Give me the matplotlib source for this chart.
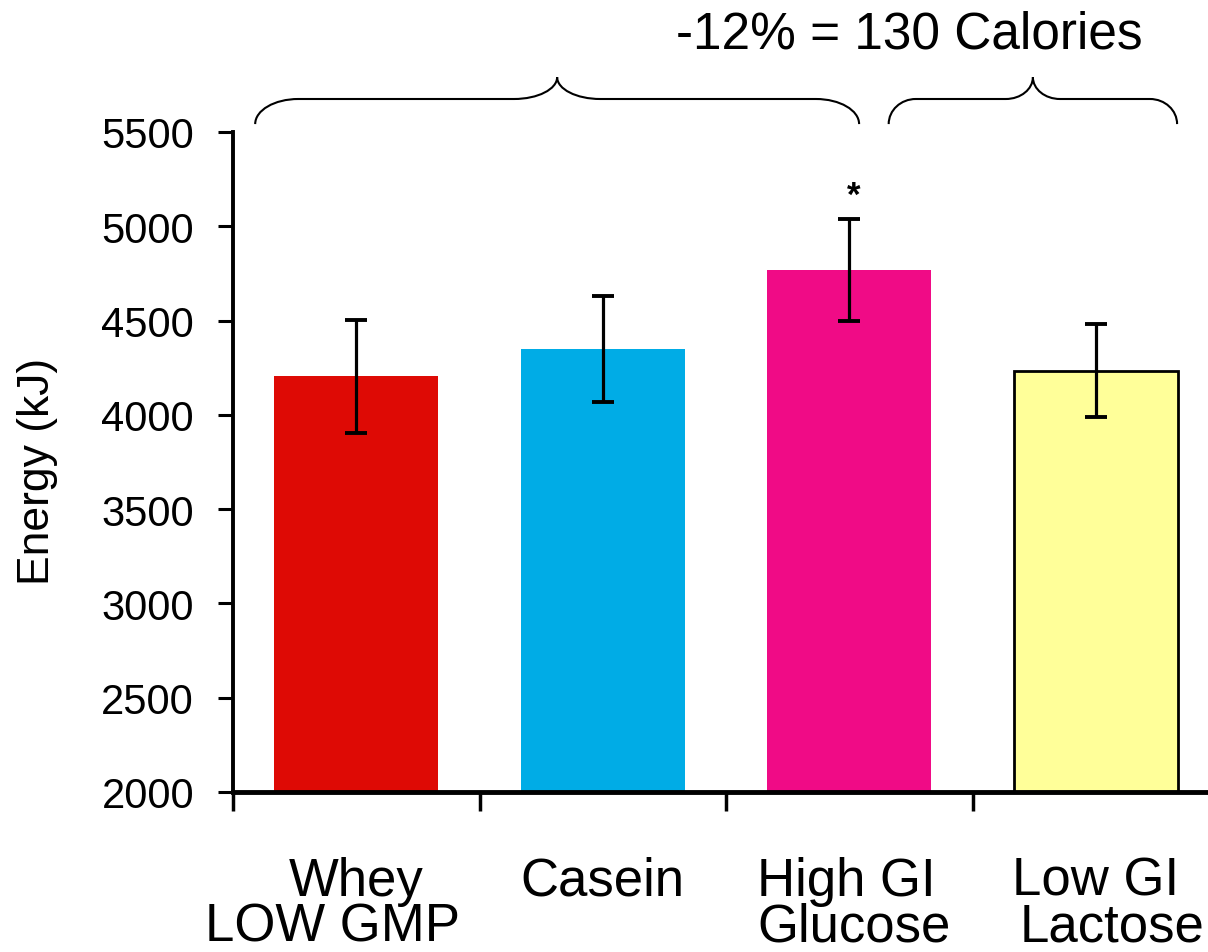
import matplotlib
matplotlib.use("Agg")
import matplotlib.pyplot as plt
from matplotlib.path import Path
from matplotlib.patches import PathPatch

plt.rcParams['font.family'] = ['Liberation Sans', 'DejaVu Sans']

# Data
names_top = ["Whey", "Casein", "High GI", "Low GI"]
names_bottom = ["LOW GMP", "", "Glucose", "Lactose"]
energy_kj = [4205, 4350, 4770, 4235]
sem_kj = [300, 280, 270, 245]
bar_colors = ["#DE0A05", "#00ACE6", "#F00B86", "#FFFF99"]
edge_colors = ["none", "none", "none", "black"]
y_ticks = [2000, 2500, 3000, 3500, 4000, 4500, 5000, 5500]

W, H = 1208, 953
fig = plt.figure(figsize=(W / 100, H / 100), dpi=100)
ax = fig.add_axes([233 / W, (H - 793) / H, (1219 - 233) / W, 660 / H])

x = list(range(len(energy_kj)))
ax.bar(x, energy_kj, width=0.665, color=bar_colors, edgecolor=edge_colors,
       linewidth=2.0, zorder=2)
ax.errorbar(x, energy_kj, yerr=sem_kj, fmt="none", ecolor="black",
            elinewidth=2.3, capsize=7.6, capthick=2.8, zorder=3)

ax.set_xlim(-0.5, 3.5)
ax.set_ylim(2000, 5500)
ax.set_yticks(y_ticks)
ax.set_yticklabels([str(v) for v in y_ticks], fontsize=30)
ax.set_xticks([-0.5, 0.5, 1.5, 2.5, 3.5])
ax.set_xticklabels([])

for side in ("top", "right"):
    ax.spines[side].set_visible(False)
ax.spines["left"].set_linewidth(2.8)
ax.spines["bottom"].set_linewidth(3.5)
ax.tick_params(axis="y", direction="out", length=11, width=2.2, pad=17)
ax.tick_params(axis="x", direction="out", length=14, width=2.5)

# Two-line category labels
line1_offsets = [0.0, 0.0, -0.01, 0.0]
line2_offsets = [-0.095, 0.0, 0.02, 0.065]
for i, (t, b) in enumerate(zip(names_top, names_bottom)):
    ax.text(i + line1_offsets[i], -(896 - 793) / 660, t,
            transform=ax.get_xaxis_transform(),
            ha="center", va="baseline", fontsize=38, clip_on=False)
    if b:
        ax.text(i + line2_offsets[i], -(942 - 793) / 660, b,
                transform=ax.get_xaxis_transform(),
                ha="center", va="baseline", fontsize=38, clip_on=False)

# Significance marker above the High GI bar
ax.text(2.02, 5113, "*", ha="center", va="baseline", fontsize=25,
        fontweight="bold", clip_on=False)


def brace(ax, x0, x1, y_end, y_mid, y_tip, r):
    k = 0.5523
    xm = (x0 + x1) / 2
    verts = [
        (x0, y_end),
        (x0, y_end + k * (y_mid - y_end)), (x0 + r - k * r, y_mid), (x0 + r, y_mid),
        (xm - r, y_mid),
        (xm - r + k * r, y_mid), (xm, y_tip - k * (y_tip - y_mid)), (xm, y_tip),
        (xm, y_tip - k * (y_tip - y_mid)), (xm + r - k * r, y_mid), (xm + r, y_mid),
        (x1 - r, y_mid),
        (x1 - r + k * r, y_mid), (x1, y_end + k * (y_mid - y_end)), (x1, y_end),
    ]
    codes = [Path.MOVETO,
             Path.CURVE4, Path.CURVE4, Path.CURVE4,
             Path.LINETO,
             Path.CURVE4, Path.CURVE4, Path.CURVE4,
             Path.CURVE4, Path.CURVE4, Path.CURVE4,
             Path.LINETO,
             Path.CURVE4, Path.CURVE4, Path.CURVE4]
    ax.add_patch(PathPatch(Path(verts, codes), facecolor="none", edgecolor="black",
                           linewidth=1.5, clip_on=False))


brace(ax, -0.41, 2.04, 5542, 5675, 5791, 0.175)
brace(ax, 2.16, 3.33, 5542, 5675, 5791, 0.11)

fig.text(909 / W, 1 - 35 / H, "-12% = 130 Calories", ha="center", va="center",
         fontsize=37)
fig.text(38 / W, 1 - 471 / H, "Energy (kJ)", ha="center", va="center",
         rotation=90, fontsize=32)

fig.savefig("out.png", dpi=100)
